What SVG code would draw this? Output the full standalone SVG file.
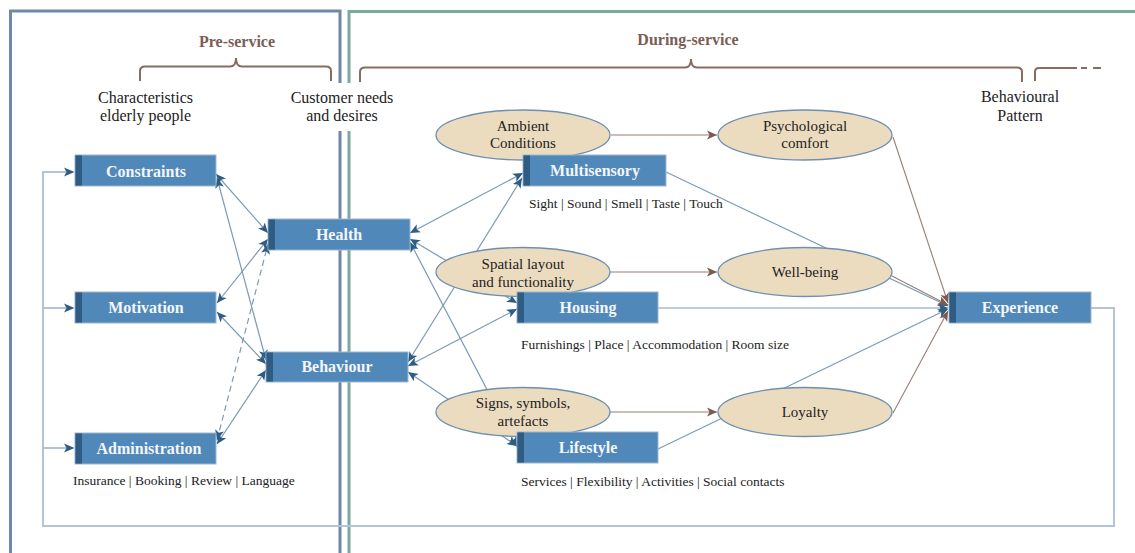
<svg xmlns="http://www.w3.org/2000/svg" width="1135" height="553" viewBox="0 0 1135 553">
  <defs>
    <style>
      .frame-pre { fill: none; stroke: #6e88a5; stroke-width: 3; }
      .frame-dur { fill: none; stroke: #7ba99c; stroke-width: 3; }
      .brace { fill: none; stroke: #8b6b60; stroke-width: 2; }
      .phase { font: bold 16px "Liberation Serif", serif; fill: #7b5d55; text-anchor: middle; }
      .lbl { font: 16px "Liberation Serif", serif; fill: #222; text-anchor: middle; }
      .box { fill: #5088ba; stroke: #9fb6cc; stroke-width: 1; }
      .strip { fill: #2f5c82; }
      .ntext { font: bold 16px "Liberation Serif", serif; fill: #f4f6f8; text-anchor: middle; }
      .ell { fill: #ecdcbf; stroke: #6d8fb0; stroke-width: 1.3; }
      .etext { font: 15px "Liberation Serif", serif; fill: #222; text-anchor: middle; }
      .sub { font: 13.5px "Liberation Serif", serif; fill: #222; }
      .link { fill: none; stroke: #7c9ab6; stroke-width: 1.2; }
      .both { marker-start: url(#arrB); marker-end: url(#arrB); }
      .toB { marker-end: url(#arrB); }
      .dash { stroke-dasharray: 6 4; }
      .brown { fill: none; stroke: #9a7d76; stroke-width: 1.1; marker-end: url(#arrR); }
      .loop { fill: none; stroke: #b3c4d5; stroke-width: 2; }
      .head { fill: #2f5c82; }
    </style>
    <marker id="arrB" viewBox="0 0 10 10" refX="10" refY="5" markerWidth="10" markerHeight="10" markerUnits="userSpaceOnUse" orient="auto-start-reverse">
      <path d="M0,0.5 L10,5 L0,9.5 L2.5,5 Z" fill="#2f5c82"/>
    </marker>
    <marker id="arrR" viewBox="0 0 10 10" refX="10" refY="5" markerWidth="10" markerHeight="10" markerUnits="userSpaceOnUse" orient="auto-start-reverse">
      <path d="M0,0.5 L10,5 L0,9.5 L2.5,5 Z" fill="#7b5a50"/>
    </marker>
  </defs>

  <rect width="1135" height="553" fill="#ffffff"/>

  <!-- phase frames -->
  <g id="frames">
    <path class="frame-pre" d="M10.5,560 L10.5,11 L340,11 L340,560"/>
    <path class="frame-dur" d="M349,560 L349,11.5 L1140,11.5"/>
  </g>

  <!-- phase braces -->
  <g id="braces">
    <path class="brace" d="M140,81 L140,71 Q140,66.5 145,66.5 L230,66.5 Q236,66.5 236,58 Q236,66.5 242,66.5 L326,66.5 Q331,66.5 331,71 L331,81"/>
    <path class="brace" d="M360,82 L360,72 Q360,67.5 365,67.5 L685,67.5 Q691,67.5 691,59 Q691,67.5 697,67.5 L1017,67.5 Q1022,67.5 1022,72 L1022,82"/>
    <path class="brace" d="M1035,81 L1035,72 Q1035,68 1039,68 L1077,68"/>
    <path class="brace" d="M1081,68 L1087,68 M1093,68 L1101,68"/>
    <text class="phase" x="237" y="47">Pre-service</text>
    <text class="phase" x="688" y="45">During-service</text>
  </g>

  <!-- column headings -->
  <g id="headings">
    <text class="lbl" x="145.5" y="103">Characteristics</text>
    <text class="lbl" x="145.5" y="121">elderly  people</text>
    <rect x="283" y="83" width="127" height="48" fill="#ffffff"/>
    <text class="lbl" x="342" y="103">Customer needs</text>
    <text class="lbl" x="342" y="121">and desires</text>
    <text class="lbl" x="1020" y="102">Behavioural</text>
    <text class="lbl" x="1020" y="121">Pattern</text>
  </g>

  <!-- connectors -->
  <g id="connectors">
    <!-- feedback loop from Experience back to the characteristics -->
    <path class="loop" d="M1091,308 L1114,308 L1114,526 L43,526 L43,172 L66,172"/>
    <path class="loop" d="M43,308 L66,308"/>
    <path class="loop" d="M43,448 L66,448"/>
    <path class="head" d="M64,167.5 L74.5,172 L64,176.5 L66.5,172 Z"/>
    <path class="head" d="M64,303.5 L74.5,308 L64,312.5 L66.5,308 Z"/>
    <path class="head" d="M64,443.5 L74.5,448 L64,452.5 L66.5,448 Z"/>

    <!-- characteristics to needs -->
    <path class="link both" d="M216,174 L268,233"/>
    <path class="link both" d="M217,178 L266,360"/>
    <path class="link both" d="M217,303 L268,239"/>
    <path class="link both" d="M217,312 L266,364"/>
    <path class="link both dash" d="M217,440 L268,244"/>
    <path class="link both" d="M217,444 L266,370"/>

    <!-- needs to service dimensions -->
    <path class="link both" d="M410,233 L523,173"/>
    <path class="link both" d="M408,362 L522,178"/>
    <path class="link both" d="M410,239 L517,303"/>
    <path class="link both" d="M408,366 L517,309"/>
    <path class="link both" d="M410,242 L517,447"/>
    <path class="link both" d="M408,372 L517,446"/>

    <!-- service dimensions to Experience -->
    <path class="link toB" d="M666,172 L948,306"/>
    <path class="link toB" d="M658,308 L948,308"/>
    <path class="link toB" d="M658,449 L948,309"/>

    <!-- cues to outcomes -->
    <path class="brown" d="M611,135 L717,135"/>
    <path class="brown" d="M610,272 L717,272"/>
    <path class="brown" d="M610,412 L717,412"/>
    <path class="brown" d="M893,137 L948,303"/>
    <path class="brown" d="M892,276 L948,305"/>
    <path class="brown" d="M893,413 L948,311"/>
  </g>

  <!-- environmental cues and outcomes -->
  <g id="ambient">
    <ellipse class="ell" cx="523" cy="135" rx="87" ry="25"/>
    <text class="etext" x="523" y="131">Ambient</text>
    <text class="etext" x="523" y="148">Conditions</text>
  </g>
  <g id="psychological">
    <ellipse class="ell" cx="805" cy="135" rx="87" ry="25"/>
    <text class="etext" x="805" y="131">Psychological</text>
    <text class="etext" x="805" y="148">comfort</text>
  </g>
  <g id="spatial">
    <ellipse class="ell" cx="523" cy="272" rx="87" ry="24.5"/>
    <text class="etext" x="523" y="269">Spatial layout</text>
    <text class="etext" x="523" y="287">and functionality</text>
  </g>
  <g id="wellbeing">
    <ellipse class="ell" cx="805" cy="272" rx="87" ry="24.5"/>
    <text class="etext" x="805" y="277">Well-being</text>
  </g>
  <g id="signs">
    <ellipse class="ell" cx="523" cy="412" rx="87" ry="24.5"/>
    <text class="etext" x="523" y="408">Signs, symbols,</text>
    <text class="etext" x="523" y="426">artefacts</text>
  </g>
  <g id="loyalty">
    <ellipse class="ell" cx="805" cy="412" rx="87" ry="24.5"/>
    <text class="etext" x="805" y="417">Loyalty</text>
  </g>

  <!-- blocks -->
  <g id="constraints">
    <rect class="box" x="75" y="155" width="141" height="31"/>
    <rect class="strip" x="75.5" y="155.5" width="6.5" height="30"/>
    <text class="ntext" x="146" y="177">Constraints</text>
  </g>
  <g id="motivation">
    <rect class="box" x="75" y="292" width="141" height="31"/>
    <rect class="strip" x="75.5" y="292.5" width="6.5" height="30"/>
    <text class="ntext" x="146" y="313">Motivation</text>
  </g>
  <g id="administration">
    <rect class="box" x="75" y="433" width="141" height="31"/>
    <rect class="strip" x="75.5" y="433.5" width="6.5" height="30"/>
    <text class="ntext" x="149" y="454">Administration</text>
    <text class="sub" x="73" y="485">Insurance  | Booking | Review | Language</text>
  </g>
  <g id="health">
    <rect class="box" x="268" y="219" width="142" height="31"/>
    <rect class="strip" x="268.5" y="219.5" width="6.5" height="30"/>
    <text class="ntext" x="339" y="240">Health</text>
  </g>
  <g id="behaviour">
    <rect class="box" x="266" y="352" width="142" height="30"/>
    <rect class="strip" x="266.5" y="352.5" width="6.5" height="29"/>
    <text class="ntext" x="337" y="372">Behaviour</text>
  </g>
  <g id="multisensory">
    <rect class="box" x="523" y="155" width="143" height="31"/>
    <rect class="strip" x="523.5" y="155.5" width="6.5" height="30"/>
    <text class="ntext" x="595" y="176">Multisensory</text>
    <text class="sub" x="529" y="208">Sight | Sound | Smell | Taste | Touch</text>
  </g>
  <g id="housing">
    <rect class="box" x="517" y="292" width="141" height="31"/>
    <rect class="strip" x="517.5" y="292.5" width="6.5" height="30"/>
    <text class="ntext" x="588" y="313">Housing</text>
    <text class="sub" x="521" y="349">Furnishings | Place | Accommodation | Room size</text>
  </g>
  <g id="lifestyle">
    <rect class="box" x="517" y="432" width="141" height="31"/>
    <rect class="strip" x="517.5" y="432.5" width="6.5" height="30"/>
    <text class="ntext" x="588" y="453">Lifestyle</text>
    <text class="sub" x="521" y="486">Services  | Flexibility | Activities | Social contacts</text>
  </g>
  <g id="experience">
    <rect class="box" x="949" y="292" width="142" height="31"/>
    <rect class="strip" x="949.5" y="292.5" width="6.5" height="30"/>
    <text class="ntext" x="1020" y="313">Experience</text>
  </g>
</svg>
